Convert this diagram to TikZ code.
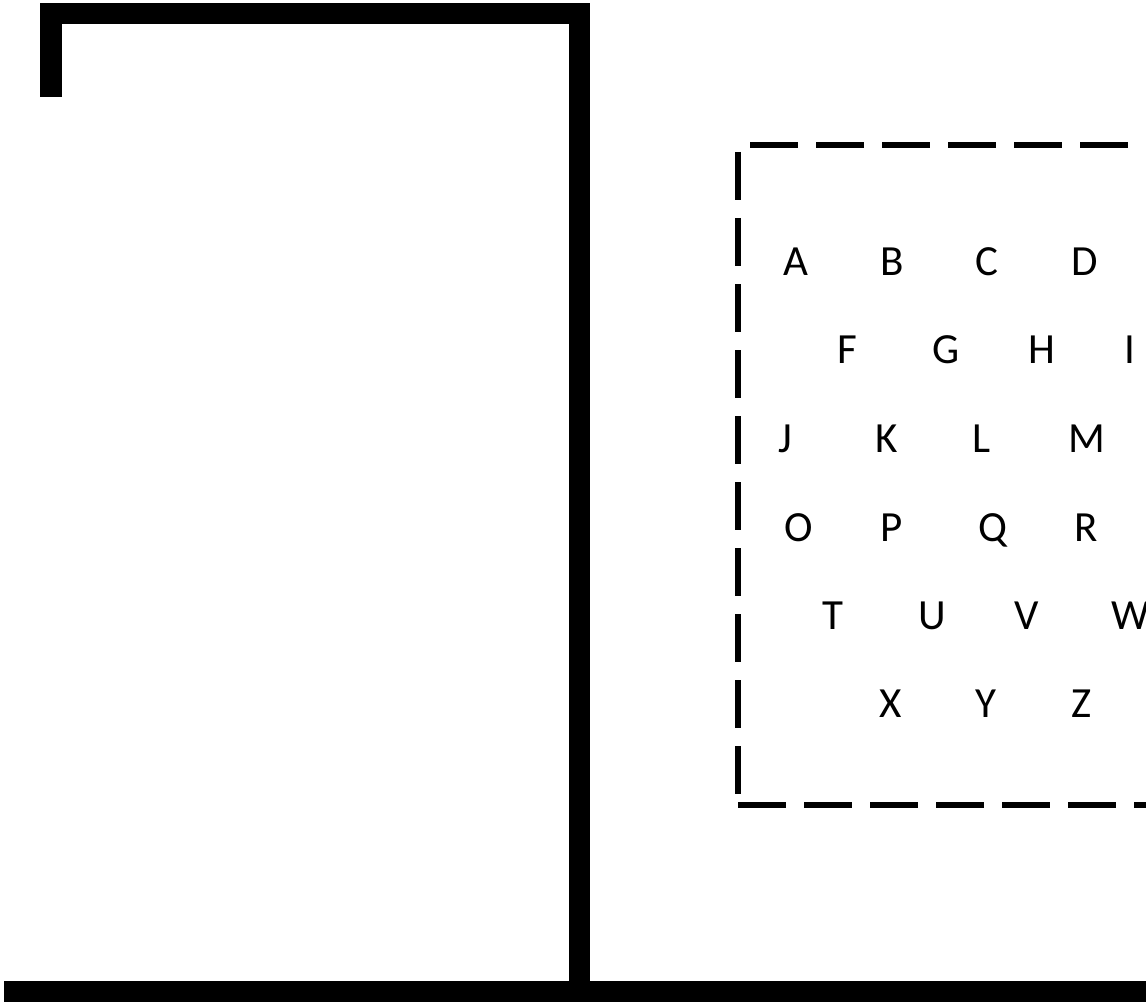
\documentclass[tikz,border=0pt]{standalone}
\usepackage{fontspec}
\setmainfont{Carlito}
\begin{document}
\begin{tikzpicture}[x=1pt,y=-1pt,
  gallows/.style={fill=black,draw=none},
  dashline/.style={line width=6pt,dash pattern=on 48pt off 18pt},
  letter/.style={anchor=base,inner sep=0pt,font=\fontsize{43}{50}\selectfont}]
\useasboundingbox[fill=white] (0,0) rectangle (1146,1003);
\clip (0,0) rectangle (1146,1003);
% gallows
\fill[gallows] (40,3) rectangle (590,24);
\fill[gallows] (40,3) rectangle (62,97);
\fill[gallows] (569,3) rectangle (590,981);
\fill[gallows] (4,981) rectangle (1146,1002);
% dashed frame
\coordinate (tl) at (750,145);
\coordinate (tr) at (1160,145);
\coordinate (lt) at (738,152);
\coordinate (lb) at (738,800);
\coordinate (bl) at (738,805);
\coordinate (br) at (1160,805);
\draw[dashline] (tl) -- (tr);
\draw[dashline] (lt) -- (lb);
\draw[dashline] (bl) -- (br);
% letters
\foreach \l/\x/\y in {A/796/276,B/892/276,C/987/276,D/1085/276,
  F/847/363,G/946/363,H/1042/363,I/1130/363,
  J/785/452,K/887/452,L/982/452,M/1087/452,
  O/799/541,P/892/541,Q/993/541,R/1086/541,
  T/833/629,U/932/629,V/1027/629,W/1131/629,
  X/891/717,Y/986/717,Z/1082/717}
  \node[letter] (l\l) at (\x,\y) {\l};
\end{tikzpicture}
\end{document}
